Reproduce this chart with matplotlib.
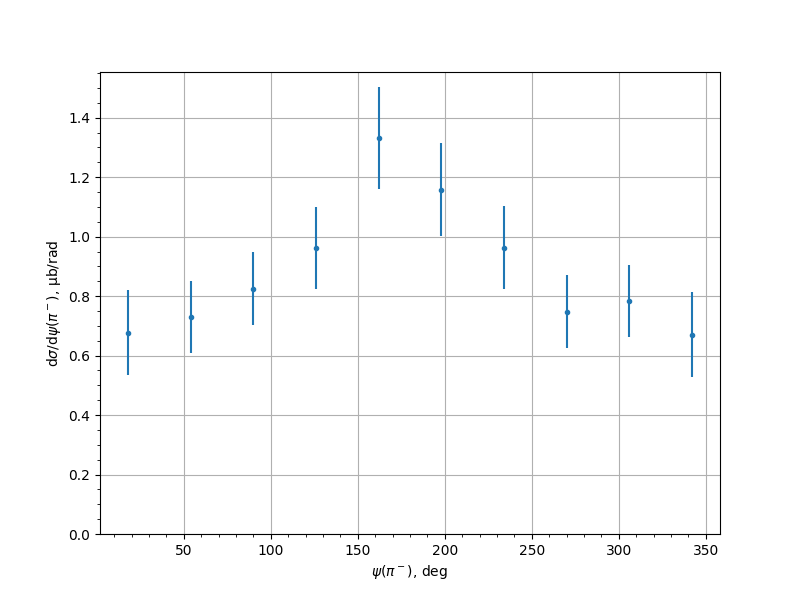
import numpy as np
import matplotlib
matplotlib.use("Agg")
import matplotlib.pyplot as plt
from matplotlib.ticker import MultipleLocator

psi = [18, 54, 90, 126, 162, 198, 234, 270, 306, 342]
dsig = [0.677, 0.730, 0.825, 0.963, 1.333, 1.158, 0.963, 0.747, 0.784, 0.670]
err = [0.143, 0.120, 0.123, 0.138, 0.172, 0.157, 0.140, 0.123, 0.120, 0.143]

fig, ax = plt.subplots(figsize=(8, 6), dpi=100)
ax.errorbar(psi, dsig, yerr=err, fmt=".", color="#1f77b4")
ax.set_ylim(bottom=0)
ax.xaxis.set_minor_locator(MultipleLocator(10))
ax.yaxis.set_minor_locator(MultipleLocator(0.05))
ax.grid(True, which="major")
ax.set_xlabel(r"$\psi(\pi^-)$, deg")
ax.set_ylabel(r"d$\sigma$/d$\psi(\pi^-)$, μb/rad")
fig.savefig("out.png")
